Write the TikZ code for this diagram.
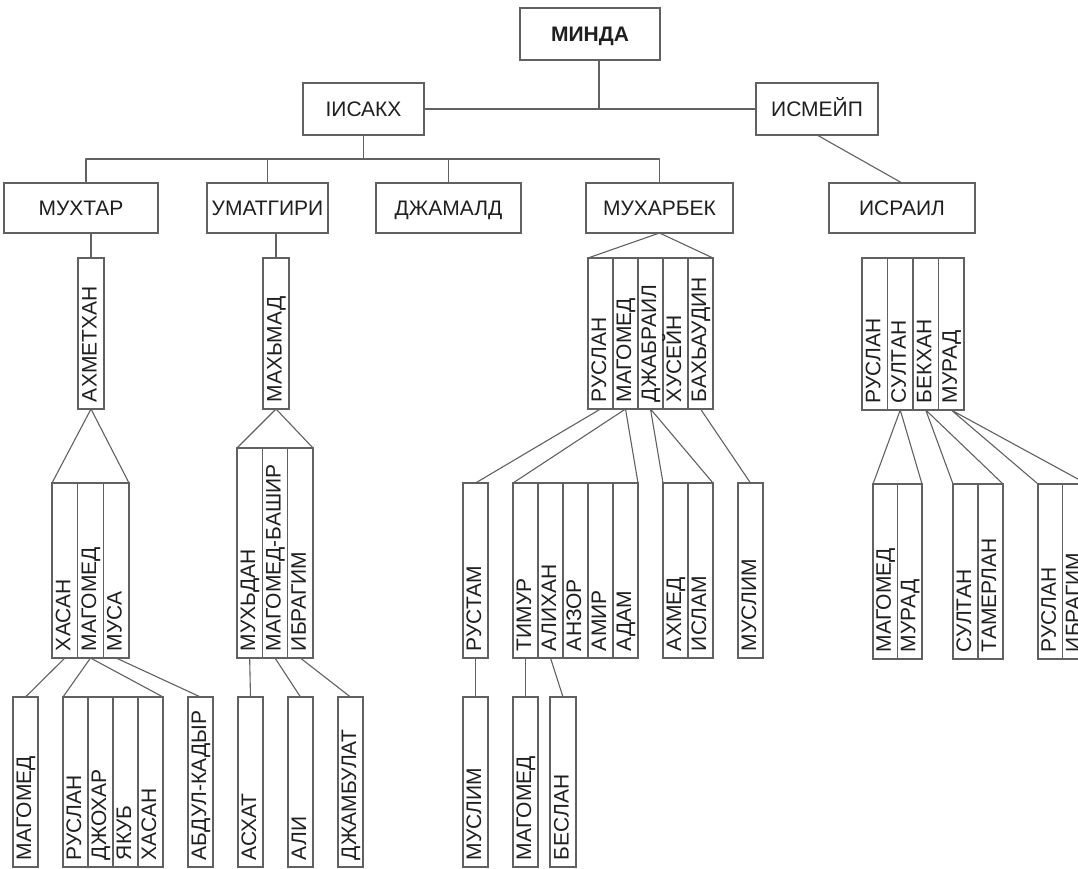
\documentclass[tikz,border=0pt]{standalone}
\usepackage{fontspec}
\setmainfont{Liberation Sans}
\tikzset{
  ln/.style={draw=black!62, line width=1.1pt, line join=round},
  hbox/.style={draw=black!62, line width=1.1pt, inner sep=0pt, outer sep=0pt,
    font=\fontsize{21}{24}\selectfont, text=black!88, text height=15pt, text depth=0pt},
  cellbox/.style={draw=black!62, line width=1.1pt, inner sep=0pt, outer sep=0pt},
  vtext/.style={rotate=90, anchor=base west, inner sep=0pt, outer sep=0pt,
    font=\fontsize{21}{24}\selectfont, text=black!88},
}
% #1 name, #2 left, #3 right, #4 top, #5 bottom, #6 text
\newcommand\vcell[6]{%
  \node[cellbox, minimum width={(#3-#2)*1pt}, minimum height={(#5-#4)*1pt}]
    (#1) at ({(#2+#3)/2},{(#4+#5)/2}) {};
  \node[vtext] (#1-t) at ({(#2+#3)/2+5.5},{#5-7}) {#6};
}
\begin{document}
\begin{tikzpicture}[x=1pt, y=-1pt]
\useasboundingbox (0,0) rectangle (1078,869);
\fill[white] (0,0) rectangle (1078,869);
\clip (0,0) rectangle (1078,869);

% top level boxes
\node[hbox, minimum width=140pt, minimum height=52pt] (minda) at (590,34) {\bfseries МИНДА};
\node[hbox, minimum width=121pt, minimum height=52pt] (isakh) at (363.5,109) {ІИСАКХ};
\node[hbox, minimum width=122pt, minimum height=52pt] (ismeyp) at (817,109) {ИСМЕЙП};
\node[hbox, minimum width=154pt, minimum height=50pt] (muhtar) at (81,208) {МУХТАР};
\node[hbox, minimum width=121pt, minimum height=50pt] (umatgiri) at (267.5,208) {УМАТГИРИ};
\node[hbox, minimum width=145pt, minimum height=50pt] (dzh) at (448.5,208) {ДЖАМАЛД};
\node[hbox, minimum width=147pt, minimum height=50pt] (muharbek) at (659.5,208) {МУХАРБЕК};
\node[hbox, minimum width=146pt, minimum height=50pt] (israil) at (902,208) {ИСРАИЛ};

% level 2
\vcell{akh}{78}{104}{258}{409}{АХМЕТХАН}
\vcell{mah}{263}{289}{258}{409}{МАХЬМАД}
\vcell{mg1}{588}{613}{258}{409}{РУСЛАН}
\vcell{mg2}{613}{638}{258}{409}{МАГОМЕД}
\vcell{mg3}{638}{663}{258}{409}{ДЖАБРАИЛ}
\vcell{mg4}{663}{688}{258}{409}{ХУСЕЙН}
\vcell{mg5}{688}{713}{258}{409}{БАХЬАУДИН}
\vcell{ig1}{862}{887.5}{258}{410}{РУСЛАН}
\vcell{ig2}{887.5}{913}{258}{410}{СУЛТАН}
\vcell{ig3}{913}{938.5}{258}{410}{БЕКХАН}
\vcell{ig4}{938.5}{964}{258}{410}{МУРАД}

% level 3
\vcell{hg1}{52}{77.7}{483}{658}{ХАСАН}
\vcell{hg2}{77.7}{103.3}{483}{658}{МАГОМЕД}
\vcell{hg3}{103.3}{129}{483}{658}{МУСА}
\vcell{mb1}{237}{262.3}{448}{658}{МУХЬДАН}
\vcell{mb2}{262.3}{287.7}{448}{658}{МАГОМЕД-БАШИР}
\vcell{mb3}{287.7}{313}{448}{658}{ИБРАГИМ}
\vcell{rst}{463}{488}{483}{658}{РУСТАМ}
\vcell{tg1}{513}{538}{483}{658}{ТИМУР}
\vcell{tg2}{538}{563}{483}{658}{АЛИХАН}
\vcell{tg3}{563}{588}{483}{658}{АНЗОР}
\vcell{tg4}{588}{613}{483}{658}{АМИР}
\vcell{tg5}{613}{638}{483}{658}{АДАМ}
\vcell{ai1}{663}{688}{483}{658}{АХМЕД}
\vcell{ai2}{688}{713}{483}{658}{ИСЛАМ}
\vcell{msl}{738}{763}{483}{658}{МУСЛИМ}
\vcell{mm1}{873}{897.5}{484}{659}{МАГОМЕД}
\vcell{mm2}{897.5}{922}{484}{659}{МУРАД}
\vcell{st1}{953}{978}{484}{659}{СУЛТАН}
\vcell{st2}{978}{1003}{484}{659}{ТАМЕРЛАН}
\vcell{ri1}{1038}{1062.5}{484}{659}{РУСЛАН}
\vcell{ri2}{1062.5}{1087}{484}{659}{ИБРАГИМ}

% level 4
\vcell{b1}{13}{38}{697}{867}{МАГОМЕД}
\vcell{rj1}{63}{88}{697}{867}{РУСЛАН}
\vcell{rj2}{88}{113}{697}{867}{ДЖОХАР}
\vcell{rj3}{113}{138}{697}{867}{ЯКУБ}
\vcell{rj4}{138}{163}{697}{867}{ХАСАН}
\vcell{abd}{188}{213}{697}{867}{АБДУЛ-КАДЫР}
\vcell{asx}{238}{263}{697}{867}{АСХАТ}
\vcell{ali}{288}{313}{697}{867}{АЛИ}
\vcell{dzb}{338}{363}{697}{867}{ДЖАМБУЛАТ}
\vcell{msl2}{463}{488}{697}{867}{МУСЛИМ}
\vcell{mag2}{513}{538}{697}{867}{МАГОМЕД}
\vcell{bes}{550}{576}{697}{867}{БЕСЛАН}

% connectors, top part
\coordinate (mj) at (599,108);
\coordinate (bus) at (363.5,159);
\draw[ln] (mj |- minda.south) -- (mj);
\draw[ln] (isakh.east) -- (ismeyp.west);
\draw[ln] (isakh.south) -- (bus);
\draw[ln] ([xshift=5pt]muhtar.north) |- (muharbek.north |- bus) -- (muharbek.north);
\draw[ln] (umatgiri.north) -- (umatgiri.north |- bus);
\draw[ln] (dzh.north) -- (dzh.north |- bus);
\draw[ln] (ismeyp.south) -- (israil.north);
\draw[ln] (muhtar.south -| akh.north) -- (akh.north);
\draw[ln] (umatgiri.south -| mah.north) -- (mah.north);

% level 1 -> 2 / 2 -> 3
\draw[ln] (mg1.north west) -- (muharbek.south) -- (mg5.north east);
\draw[ln] (hg1.north west) -- (akh.south) -- (hg3.north east);
\draw[ln] (mb1.north west) -- (mah.south) -- (mb3.north east);
\draw[ln] (mg1.south) -- (rst.north);
\draw[ln] (tg1.north west) -- (mg2.south) -- (tg5.north east);
\draw[ln] (ai1.north west) -- (mg3.south) -- (ai2.north east);
\draw[ln] (mg5.south) -- (msl.north);
\draw[ln] (mm1.north west) -- (ig2.south) -- (mm2.north east);
\draw[ln] (st1.north west) -- (ig3.south) -- (st2.north east);
\draw[ln] (ri1.north west) -- (ig4.south) -- (ri2.north east);

% level 3 -> 4
\draw[ln] (hg1.south) -- (b1.north);
\draw[ln] (rj1.north west) -- (hg2.south) -- (rj4.north east);
\draw[ln] (hg3.south) -- (abd.north);
\draw[ln] (mb1.south) -- (asx.north);
\draw[ln] (mb2.south) -- (ali.north);
\draw[ln] (mb3.south) -- (dzb.north);
\draw[ln] (rst.south) -- (msl2.north);
\draw[ln] (tg1.south) -- (mag2.north);
\draw[ln] (tg2.south) -- (bes.north);
\end{tikzpicture}
\end{document}
